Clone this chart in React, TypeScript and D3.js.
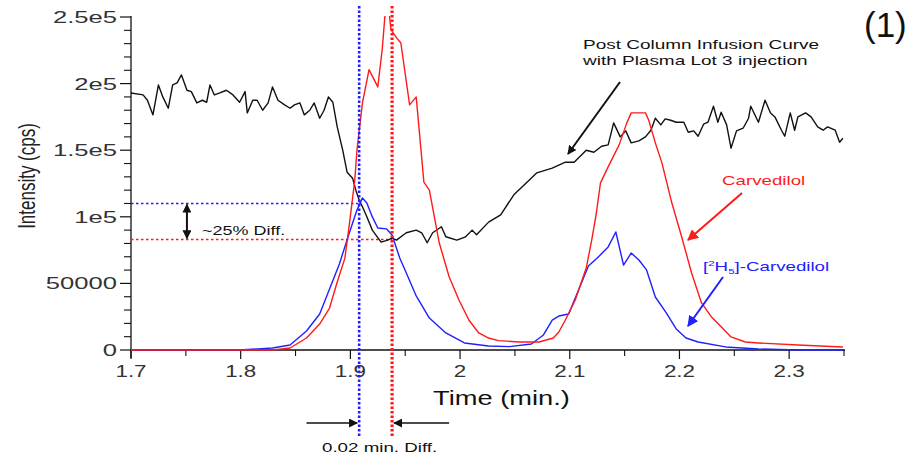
import React from "react";
import * as d3 from "d3";

// post column infusion curve (black)
const infusionTime = [
  1.7, 1.711, 1.715, 1.72, 1.725, 1.729, 1.734, 1.738, 1.742, 1.746, 1.751, 1.755, 1.76, 1.765, 1.769, 1.772, 1.776,
  1.781, 1.787, 1.793, 1.799, 1.804, 1.806, 1.811, 1.815, 1.82, 1.825, 1.829, 1.834, 1.84, 1.845, 1.849, 1.854, 1.858,
  1.863, 1.867, 1.872, 1.876, 1.88, 1.884, 1.888, 1.893, 1.897, 1.902, 1.905, 1.908, 1.911, 1.915, 1.92, 1.928, 1.934,
  1.938, 1.942, 1.951, 1.96, 1.965, 1.97, 1.975, 1.983, 1.987, 1.997, 2.005, 2.011, 2.015, 2.026, 2.037, 2.049, 2.061,
  2.07, 2.084, 2.096, 2.104, 2.115, 2.122, 2.129, 2.135, 2.14, 2.146, 2.151, 2.156, 2.163, 2.169, 2.174, 2.178, 2.183,
  2.187, 2.192, 2.197, 2.204, 2.208, 2.213, 2.217, 2.222, 2.226, 2.231, 2.235, 2.238, 2.243, 2.247, 2.252, 2.258, 2.263,
  2.265, 2.272, 2.278, 2.283, 2.287, 2.293, 2.296, 2.301, 2.305, 2.308, 2.315, 2.32, 2.326, 2.331, 2.335, 2.342, 2.346,
  2.349,
];
const infusionCps = [
  193000, 191500, 187500, 176500, 199000, 190000, 181500, 199000, 200500, 206500, 195000, 194000, 185500, 187500,
  186000, 199000, 191500, 193000, 195000, 191500, 186000, 194000, 178000, 187500, 187500, 180000, 185500, 197500,
  187500, 184000, 181500, 184000, 185500, 176500, 180000, 185500, 174000, 180000, 190000, 186000, 167500, 150000,
  133500, 129000, 120000, 112500, 107500, 100000, 90000, 81000, 82500, 84000, 82500, 88000, 90000, 88000, 80500,
  88000, 92500, 85000, 82500, 85000, 90000, 86500, 96000, 101500, 116500, 126000, 133000, 136500, 141000, 141000,
  150000, 148500, 153000, 154000, 170500, 160000, 164500, 155500, 157000, 160000, 165000, 174000, 169000, 173500,
  172500, 171000, 171000, 163500, 164500, 160500, 169500, 171000, 183000, 171000, 178500, 169000, 151500, 164500,
  166500, 174000, 183000, 171000, 187500, 178000, 175000, 165000, 160500, 178000, 165000, 175000, 178000, 175000,
  167500, 165000, 167500, 165000, 156000, 159000,
];

// Carvedilol (red)
const carvTime = [
  1.7, 1.799, 1.829, 1.845, 1.86, 1.872, 1.881, 1.888, 1.895, 1.899, 1.904, 1.906, 1.911, 1.917, 1.925, 1.929, 1.932,
  1.935, 1.937, 1.942, 1.946, 1.954, 1.96, 1.967, 1.972, 1.981, 1.99, 1.999, 2.008, 2.017, 2.026, 2.035, 2.054, 2.072,
  2.085, 2.09, 2.096, 2.105, 2.115, 2.12, 2.124, 2.128, 2.135, 2.145, 2.152, 2.156, 2.169, 2.172, 2.178, 2.184, 2.193,
  2.202, 2.211, 2.22, 2.229, 2.238, 2.247, 2.26, 2.272, 2.308, 2.349,
];
const carvCps = [
  0, 0, 0, 1500, 9000, 19500, 31500, 51000, 69000, 94000, 127500, 150000, 185500, 210500, 197500, 225500, 256000,
  256000, 240500, 234500, 230500, 184000, 190000, 126000, 120000, 80500, 55000, 37500, 22500, 12800, 9000, 7000, 6000,
  6000, 9000, 13500, 22500, 37500, 61500, 82500, 101500, 125500, 137500, 154000, 170500, 178000, 178000, 172500,
  155500, 140500, 110500, 85000, 58000, 35500, 25000, 17500, 9800, 6000, 5300, 3800, 2300,
];

// [2H5]-Carvedilol (blue)
const d5Time = [
  1.7, 1.799, 1.829, 1.845, 1.86, 1.872, 1.881, 1.89, 1.899, 1.906, 1.911, 1.915, 1.92, 1.925, 1.933, 1.938, 1.945,
  1.951, 1.96, 1.972, 1.987, 2.004, 2.026, 2.045, 2.065, 2.076, 2.084, 2.09, 2.099, 2.108, 2.117, 2.126, 2.135, 2.142,
  2.149, 2.156, 2.163, 2.17, 2.178, 2.188, 2.197, 2.206, 2.217, 2.242, 2.272, 2.308, 2.349,
];
const d5Cps = [
  0, 0, 1500, 3800, 14300, 27000, 45800, 64600, 87900, 105100, 114200, 110400, 99900, 91600, 90900, 86400, 69100,
  57800, 40600, 24000, 12800, 5300, 3000, 2500, 4500, 11300, 22500, 25500, 27000, 45100, 63100, 69800, 77400, 88600,
  63800, 72800, 67600, 60100, 39800, 27800, 15800, 9000, 6000, 2300, 800, 0, 0,
];

const xTicks = [1.7, 1.8, 1.9, 2.0, 2.1, 2.2, 2.3];
const xTickLabels = ["1.7", "1.8", "1.9", "2", "2.1", "2.2", "2.3"];
const yTicks = [0, 50000, 100000, 150000, 200000, 250000];
const yTickLabels = ["0", "50000", "1e5", "1.5e5", "2e5", "2.5e5"];

// annotation values
const d5Apex = 1.908;
const carvApex = 1.938;
const infusionAtD5 = 110000;
const infusionAtCarv = 83000;

const FONT = "'Liberation Sans', Arial, sans-serif";
const RED = "#ff1a1a";
const BLUE = "#2020ff";

const x = d3.scaleLinear().domain([1.7, 2.35]).range([131, 844]);
const y = d3.scaleLinear().domain([0, 250000]).range([350, 17]);

const makeLine = (times: number[]) =>
  d3
    .line<number>()
    .x((_, i) => x(times[i]))
    .y((d) => y(d));

const Stretch = ({ x: tx, y: ty, sx = 1.45, size, anchor = "start", fill = "#111", children }: any) => (
  <text
    transform={`translate(${tx},${ty}) scale(${sx},1)`}
    fontSize={size}
    textAnchor={anchor}
    fill={fill}
    fontFamily={FONT}
  >
    {children}
  </text>
);

export default function App() {
  const xMinor = d3.range(0, 14).map((i) => 1.7 + i * 0.05).filter((_, i) => i % 2 === 1);
  const yMinor = d3.range(0, 26).map((i) => i * 10000).filter((_, i) => i % 5 !== 0);
  const yAxisBottom = y(0);

  return (
    <svg width={921} height={455} style={{ position: "absolute", left: 0, top: 0, background: "#fff" }}>
      <defs>
        <clipPath id="plot">
          <rect x={131} y={16} width={714} height={336} />
        </clipPath>
        <marker id="headK" viewBox="0 0 10 10" refX="9" refY="5" markerWidth="9" markerHeight="9" orient="auto-start-reverse" markerUnits="userSpaceOnUse">
          <path d="M0,0 L10,5 L0,10 z" fill="#111" />
        </marker>
        <marker id="headR" viewBox="0 0 10 10" refX="9" refY="5" markerWidth="11" markerHeight="11" orient="auto" markerUnits="userSpaceOnUse">
          <path d="M0,0 L10,5 L0,10 z" fill={RED} />
        </marker>
        <marker id="headB" viewBox="0 0 10 10" refX="9" refY="5" markerWidth="11" markerHeight="11" orient="auto" markerUnits="userSpaceOnUse">
          <path d="M0,0 L10,5 L0,10 z" fill={BLUE} />
        </marker>
      </defs>

      {/* axes */}
      <line x1={131} x2={131} y1={16} y2={358} stroke="#111" strokeWidth={1.3} />
      <line x1={131} x2={845} y1={yAxisBottom} y2={yAxisBottom} stroke="#111" strokeWidth={1.3} />
      {yTicks.map((t, i) => (
        <g key={`yt${i}`}>
          <line x1={120} x2={131} y1={y(t)} y2={y(t)} stroke="#111" strokeWidth={1.2} />
          <Stretch x={117} y={y(t) + 6} sx={1.6} size={16} anchor="end" fill="#333">
            {yTickLabels[i]}
          </Stretch>
        </g>
      ))}
      {yMinor.map((t) => (
        <line key={`ym${t}`} x1={124} x2={131} y1={y(t)} y2={y(t)} stroke="#111" strokeWidth={1.1} />
      ))}
      {xTicks.map((t, i) => (
        <g key={`xt${i}`}>
          <line x1={x(t)} x2={x(t)} y1={350} y2={359} stroke="#111" strokeWidth={1.2} />
          <Stretch x={x(t)} y={377} sx={1.4} size={16} anchor="middle" fill="#333">
            {xTickLabels[i]}
          </Stretch>
        </g>
      ))}
      {xMinor.map((t) => (
        <line key={`xm${t}`} x1={x(t)} x2={x(t)} y1={350} y2={356} stroke="#111" strokeWidth={1.1} />
      ))}

      <Stretch x={433} y={405} sx={1.3} size={21}>Time (min.)</Stretch>
      <text
        transform="translate(35,176) rotate(-90) scale(1,1.45)"
        fontSize={17}
        textAnchor="middle"
        fill="#222"
        fontFamily={FONT}
      >
        Intensity (cps)
      </text>

      {/* reference lines */}
      <line x1={131} x2={x(d5Apex)} y1={y(infusionAtD5)} y2={y(infusionAtD5)} stroke={BLUE} strokeWidth={1.6} strokeDasharray="2.5 2.5" />
      <line x1={131} x2={x(carvApex)} y1={y(infusionAtCarv)} y2={y(infusionAtCarv)} stroke={RED} strokeWidth={1.6} strokeDasharray="2.5 2.5" />

      {/* curves */}
      <g clipPath="url(#plot)" fill="none" strokeWidth={1.4} strokeLinejoin="round">
        <path d={makeLine(infusionTime)(infusionCps) || ""} stroke="#111" />
        <path d={makeLine(d5Time)(d5Cps) || ""} stroke={BLUE} />
        <path d={makeLine(carvTime)(carvCps) || ""} stroke={RED} />
      </g>

      <line x1={x(d5Apex)} x2={x(d5Apex)} y1={6} y2={437} stroke={BLUE} strokeWidth={2.6} strokeDasharray="2.5 2" />
      <line x1={x(carvApex)} x2={x(carvApex)} y1={6} y2={437} stroke={RED} strokeWidth={3.2} strokeDasharray="2.5 2" />

      {/* ~25% diff */}
      <line x1={x(1.751)} x2={x(1.751)} y1={y(infusionAtD5) + 1} y2={y(infusionAtCarv) - 1} stroke="#111" strokeWidth={2} markerStart="url(#headK)" markerEnd="url(#headK)" />
      <Stretch x={202} y={235} sx={1.5} size={12}>~25% Diff.</Stretch>

      {/* 0.02 min diff */}
      <line x1={x(1.86)} x2={x(d5Apex) - 2} y1={423} y2={423} stroke="#111" strokeWidth={1.6} markerEnd="url(#headK)" />
      <line x1={x(1.99)} x2={x(carvApex) + 2} y1={423} y2={423} stroke="#111" strokeWidth={1.6} markerEnd="url(#headK)" />
      <Stretch x={322} y={452} sx={1.5} size={12.5}>0.02 min. Diff.</Stretch>

      {/* labels */}
      <Stretch x={583} y={49} sx={1.46} size={13}>Post Column Infusion Curve</Stretch>
      <Stretch x={583} y={65} sx={1.46} size={13}>with Plasma Lot 3 injection</Stretch>
      <line x1={620} y1={82} x2={568} y2={154} stroke="#111" strokeWidth={2} markerEnd="url(#headK)" />

      <Stretch x={722} y={185} sx={1.44} size={13} fill={RED}>Carvedilol</Stretch>
      <line x1={742} y1={193} x2={688} y2={240} stroke={RED} strokeWidth={2} markerEnd="url(#headR)" />

      <Stretch x={703} y={271} sx={1.44} size={13} fill={BLUE}>
        [<tspan fontSize={8} dy={-5}>2</tspan>
        <tspan dy={5}>H</tspan>
        <tspan fontSize={8} dy={3}>5</tspan>
        <tspan dy={-3}>]-Carvedilol</tspan>
      </Stretch>
      <line x1={723} y1={277} x2={688} y2={326} stroke={BLUE} strokeWidth={2} markerEnd="url(#headB)" />

      <text x={864} y={37} fontSize={35} fontFamily={FONT} fill="#111">
        (1)
      </text>
    </svg>
  );
}
